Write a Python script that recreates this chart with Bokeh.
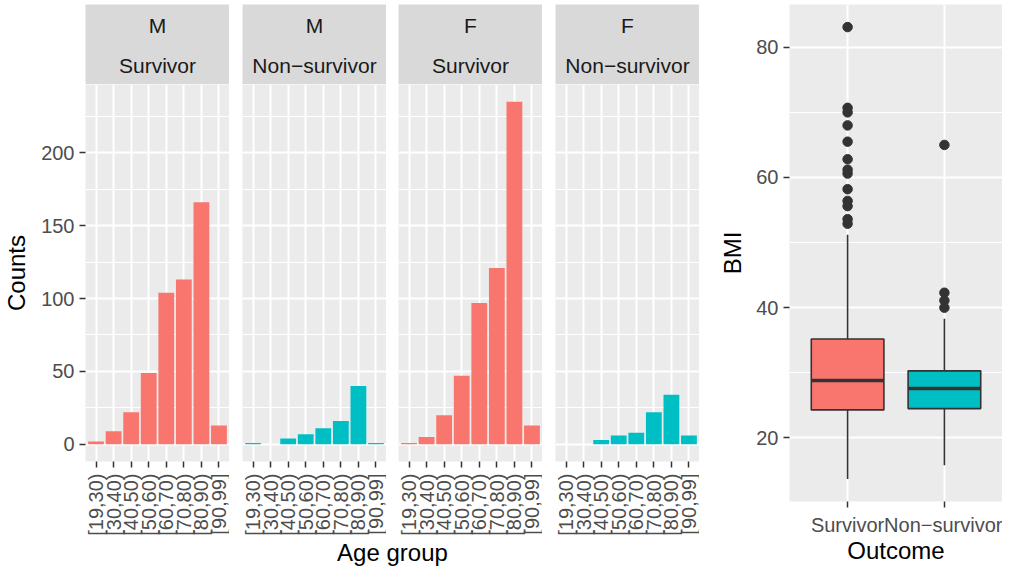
import math
from bokeh.plotting import figure
from bokeh.layouts import row, column
from bokeh.models import Range1d, FactorRange, FixedTicker
from bokeh.embed import file_html
from bokeh.resources import INLINE
from bokeh.core.properties import value

# ---------------- data ----------------
age_groups = ["[19,30)", "[30,40)", "[40,50)", "[50,60)",
              "[60,70)", "[70,80)", "[80,90)", "[90,99]"]
panel_sex = ["M", "M", "F", "F"]
panel_outcome = ["Survivor", "Non\u2212survivor", "Survivor", "Non\u2212survivor"]

counts_m_survivor = [2, 9, 22, 49, 104, 113, 166, 13]
counts_m_nonsurvivor = [1, 0, 4, 7, 11, 16, 40, 1]
counts_f_survivor = [1, 5, 20, 47, 97, 121, 235, 13]
counts_f_nonsurvivor = [0, 0, 3, 6, 8, 22, 34, 6]
panel_counts = [counts_m_survivor, counts_m_nonsurvivor,
                counts_f_survivor, counts_f_nonsurvivor]

count_ticks = [0, 50, 100, 150, 200]
count_minor_ticks = [25, 75, 125, 175, 225]

outcomes = ["Survivor", "Non\u2212survivor"]
outcome_colors = ["#F8766D", "#00BFC4"]
bmi_lower_whisker = [13.7, 15.8]
bmi_q1 = [24.3, 24.5]
bmi_median = [28.8, 27.6]
bmi_q3 = [35.2, 30.3]
bmi_upper_whisker = [51.2, 38.3]
bmi_outliers_survivor = [83.1, 70.7, 70.0, 68.0, 65.5, 62.8, 61.2, 60.6,
                         58.2, 56.4, 55.6, 53.6, 52.9]
bmi_outliers_nonsurvivor = [65.0, 42.3, 41.1, 40.0]
bmi_ticks = [20, 40, 60, 80]
bmi_minor_ticks = [30, 50, 70]

# ---------------- style ----------------
FONT = "Liberation Sans"
PANEL_BG = "#EBEBEB"
STRIP_BG = "#D9D9D9"
TICK_COLOR = "#333333"
LABEL_COLOR = "#4D4D4D"


def style_axes(p):
    for ax in p.axis:
        ax.axis_line_color = None
        ax.major_tick_line_color = TICK_COLOR
        ax.major_tick_line_width = 1.5
        ax.major_tick_out = 6
        ax.major_tick_in = 0
        ax.minor_tick_line_color = None
        ax.minor_tick_out = 0
        ax.minor_tick_in = 0
        ax.major_label_text_font = FONT
        ax.major_label_text_font_size = "20px"
        ax.major_label_text_color = LABEL_COLOR
        ax.axis_label_text_font = FONT
        ax.axis_label_text_font_size = "24px"
        ax.axis_label_text_font_style = "normal"
        ax.axis_label_text_color = "black"


def style_grid(p):
    p.xgrid.grid_line_color = "white"
    p.xgrid.grid_line_width = 2
    p.ygrid.grid_line_color = "white"
    p.ygrid.grid_line_width = 2
    p.ygrid.minor_grid_line_color = "white"
    p.ygrid.minor_grid_line_width = 1


# layout geometry (pixels)
TOTAL_H = 566
FRAME_W = 144
left_borders = [85, 13, 12, 13]
widths = [lb + FRAME_W for lb in left_borders]
LEFT_W = sum(widths)
TOP = 4
STRIP_H = 80
PANEL_FRAME_H = 379
PANEL_BOTTOM = 75
FOOT_L_H = TOTAL_H - (TOP + STRIP_H) - (PANEL_FRAME_H + PANEL_BOTTOM)

outcome_color_map = dict(zip(outcomes, outcome_colors))
ymax_count = max(max(c) for c in panel_counts)
count_pad = 0.05 * ymax_count
count_range = Range1d(-count_pad, ymax_count + count_pad)

strips, panels = [], []
for i in range(4):
    s = figure(width=widths[i], height=TOP + STRIP_H, x_range=Range1d(0, 1),
               y_range=Range1d(0, STRIP_H), x_axis_type=None, y_axis_type=None,
               toolbar_location=None, output_backend="svg",
               min_border_left=left_borders[i], min_border_right=0,
               min_border_top=TOP, min_border_bottom=0)
    s.outline_line_color = None
    s.border_fill_color = "white"
    s.background_fill_color = STRIP_BG
    s.text(x=[0.5, 0.5], y=[59, 19], text=[panel_sex[i], panel_outcome[i]],
           text_align="center", text_baseline="middle",
           text_font=value(FONT), text_font_size="21px", text_color="#1A1A1A")
    strips.append(s)

    p = figure(width=widths[i], height=PANEL_FRAME_H + PANEL_BOTTOM,
               x_range=FactorRange(factors=age_groups, range_padding=0.025),
               y_range=count_range, toolbar_location=None, output_backend="svg",
               min_border_left=left_borders[i], min_border_right=0,
               min_border_top=0, min_border_bottom=PANEL_BOTTOM)
    p.background_fill_color = PANEL_BG
    p.border_fill_color = "white"
    p.outline_line_color = None
    p.vbar(x=age_groups, top=panel_counts[i], width=0.9,
           fill_color=outcome_color_map[panel_outcome[i]], line_color=None)
    style_axes(p)
    style_grid(p)
    p.yaxis.ticker = FixedTicker(ticks=count_ticks, minor_ticks=count_minor_ticks)
    p.xaxis.major_label_orientation = math.pi / 2
    p.xaxis.major_label_standoff = 6
    if i == 0:
        p.yaxis.axis_label = "Counts"
        p.yaxis.major_label_standoff = 5
        p.yaxis.axis_label_standoff = 8
    else:
        p.yaxis.visible = False
    panels.append(p)

# shared x-axis title under the four panels: a 1px-high frame spanning them,
# whose (tick-less) bottom axis carries the title
footer_l = figure(width=LEFT_W, height=FOOT_L_H, x_range=Range1d(0, 1),
                  y_range=Range1d(0, 1), y_axis_type=None,
                  toolbar_location=None, output_backend="svg",
                  min_border_left=left_borders[0], min_border_right=0,
                  min_border_top=0, min_border_bottom=FOOT_L_H - 1)
footer_l.outline_line_color = None
footer_l.border_fill_color = "white"
footer_l.background_fill_color = "white"
footer_l.grid.visible = False
style_axes(footer_l)
footer_l.xaxis.ticker = FixedTicker(ticks=[])
footer_l.xaxis.major_tick_out = 0
footer_l.xaxis.major_label_standoff = 0
footer_l.xaxis.axis_label = "Age group"
footer_l.xaxis.axis_label_standoff = 0

# ---------------- boxplot ----------------
bmi_all = bmi_lower_whisker + bmi_upper_whisker + bmi_outliers_survivor + bmi_outliers_nonsurvivor
bmi_lo, bmi_hi = min(bmi_all), max(bmi_all)
bmi_pad = 0.05 * (bmi_hi - bmi_lo)

BOX_LEFT = 90
BOX_W = 1002 - LEFT_W
BOX_FRAME_H = 503
BOX_BOTTOM = TOTAL_H - TOP - BOX_FRAME_H

b = figure(width=BOX_W, height=TOTAL_H,
           x_range=FactorRange(factors=outcomes, range_padding=0.1),
           y_range=Range1d(bmi_lo - bmi_pad, bmi_hi + bmi_pad),
           toolbar_location=None, output_backend="svg",
           min_border_left=BOX_LEFT, min_border_right=0,
           min_border_top=TOP, min_border_bottom=BOX_BOTTOM)
b.background_fill_color = PANEL_BG
b.border_fill_color = "white"
b.outline_line_color = None
b.segment(x0=outcomes, y0=bmi_q3, x1=outcomes, y1=bmi_upper_whisker,
          line_color=TICK_COLOR, line_width=1.6)
b.segment(x0=outcomes, y0=bmi_lower_whisker, x1=outcomes, y1=bmi_q1,
          line_color=TICK_COLOR, line_width=1.6)
b.vbar(x=outcomes, bottom=bmi_q1, top=bmi_q3, width=0.75,
       fill_color=outcome_colors, line_color=TICK_COLOR, line_width=1.6)
b.rect(x=outcomes, y=bmi_median, width=0.75, height=3.5, height_units="screen",
       fill_color=TICK_COLOR, line_color=None)
out_x = [outcomes[0]] * len(bmi_outliers_survivor) + [outcomes[1]] * len(bmi_outliers_nonsurvivor)
out_y = bmi_outliers_survivor + bmi_outliers_nonsurvivor
b.scatter(x=out_x, y=out_y, size=9.5, fill_color=TICK_COLOR, line_color=TICK_COLOR)
style_axes(b)
style_grid(b)
b.yaxis.ticker = FixedTicker(ticks=bmi_ticks, minor_ticks=bmi_minor_ticks)
b.yaxis.axis_label = "BMI"
b.yaxis.major_label_standoff = 5
b.yaxis.axis_label_standoff = 7
b.xaxis.major_label_standoff = 6
b.xaxis.axis_label = "Outcome"
b.xaxis.axis_label_standoff = -2

layout = row(column(row(*strips), row(*panels), footer_l), b)
open("out.html", "w").write(file_html(layout, INLINE))
